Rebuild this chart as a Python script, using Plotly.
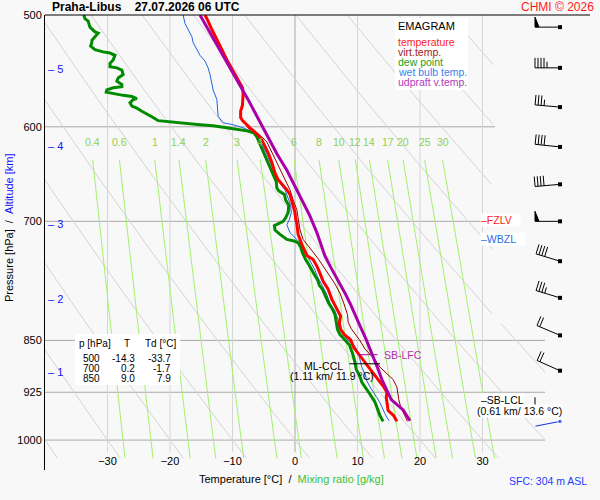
import math

import numpy as np
import plotly.graph_objects as go

# ---- sounding Praha-Libus 27.07.2026 06 UTC ----
TEMP_P = [970, 961, 953, 945, 933, 925, 917, 906, 894, 881, 869, 860, 849, 842, 835, 826, 817, 808, 795, 782,
          772, 762, 753, 745, 740, 727, 715, 703, 697, 690, 682, 670, 665, 659, 654, 647, 636, 626, 619, 613,
          608, 604, 601, 598, 594, 591, 585, 579, 568, 563, 559, 551, 547, 538, 529, 521, 512, 504, 500]
TEMP_C = [16.3, 15.8, 14.9, 14.8, 14.6, 14.7, 14.2, 13.3, 12.3, 11.2, 10.1, 9.4, 8.9, 7.9, 7.3, 7.1, 7.3, 6.7, 5.9, 5.3,
          4.5, 4.0, 3.5, 2.9, 1.9, 1.1, 0.5, 0.3, 0.1, 0.0, -0.3, -0.8, -1.3, -2.1, -2.7, -3.2, -3.7, -4.3, -4.8, -5.3,
          -5.9, -6.7, -7.2, -7.7, -8.4, -8.7, -8.7, -8.4, -8.3, -8.4, -8.8, -9.6, -10.1, -10.9, -11.7, -12.5, -13.3, -14.0, -14.4]

VIRT_P = [970, 947, 936, 922, 917, 906, 897, 888, 877, 869, 862, 849, 843, 834, 825, 815, 800, 787, 774, 762,
          753, 745, 736, 727, 721, 710, 698, 687, 676, 665, 658, 647, 636, 623, 615, 610, 606, 602, 595, 591,
          585, 579, 568, 563, 559, 551, 538, 521, 504, 500]
VIRT_C = [18.0, 16.9, 16.6, 16.4, 16.3, 15.7, 14.7, 13.6, 12.8, 12.0, 11.2, 10.3, 9.8, 9.0, 8.5, 8.4, 7.8, 7.2, 6.3, 5.3,
          4.5, 3.8, 2.9, 1.9, 1.3, 0.8, 0.5, 0.3, -0.3, -0.8, -1.3, -2.1, -2.9, -4.0, -4.5, -5.3, -6.1, -7.4, -8.2, -8.6,
          -8.6, -8.3, -8.2, -8.3, -8.7, -9.5, -10.8, -12.4, -13.9, -14.3]

DEW_P = [970, 961, 953, 940, 928, 917, 910, 902, 891, 881, 868, 856, 849, 842, 835, 826, 815, 808, 800, 791,
         782, 777, 770, 765, 759, 751, 745, 737, 730, 725, 723, 721, 715, 710, 705, 700, 696, 690, 682, 676,
         670, 666, 663, 656, 650, 644, 636, 630, 620, 614, 610, 606, 604, 602, 601, 599, 598, 596, 595, 594,
         591, 588, 585, 582, 580, 577, 574, 573, 571, 570, 568, 567, 565, 563, 562, 560, 557, 554, 551, 547,
         545, 544, 541, 538, 534, 532, 531, 529, 526, 523, 521, 518, 515, 514, 510, 505, 503, 500]
DEW_C = [14.1, 13.6, 13.3, 12.8, 12.0, 11.2, 10.7, 10.4, 9.8, 9.6, 9.2, 8.7, 8.0, 7.2, 6.8, 6.6, 6.4, 6.0, 5.4, 4.9,
         4.4, 3.9, 3.6, 3.2, 2.8, 2.2, 1.7, 1.2, 0.9, 0.5, 0.0, -1.3, -2.4, -3.2, -3.3, -1.9, -1.5, -1.1, -1.0, -1.5,
         -1.7, -2.6, -2.9, -3.0, -3.4, -3.8, -4.3, -4.8, -5.4, -5.8, -6.1, -6.6, -7.7, -9.9, -10.9, -13.1, -15.2, -18.4, -20.5, -21.9,
         -22.7, -23.7, -24.5, -25.3, -26.1, -26.4, -25.9, -25.3, -26.1, -27.5, -29.1, -30.2, -30.1, -29.1, -27.7, -27.7, -28.5, -28.3, -27.5, -27.7,
         -28.5, -29.6, -29.6, -29.1, -28.8, -29.6, -30.7, -32.0, -32.7, -32.5, -32.5, -32.0, -31.5, -32.0, -32.8, -33.1, -33.6, -33.8]

WET_P = [969, 964, 958, 951, 941, 933, 925, 917, 908, 898, 888, 877, 867, 858, 849, 832, 822, 810, 800, 787,
         776, 766, 758, 745, 736, 727, 721, 713, 704, 698, 690, 682, 676, 665, 659, 654, 643, 635, 626, 620,
         611, 606, 604, 601, 598, 596, 590, 574, 565, 559, 551, 545, 539, 534, 529, 523, 518, 512, 507, 500]
WET_C = [15.1, 14.7, 14.4, 14.1, 13.6, 13.1, 12.5, 12.0, 11.5, 11.2, 10.7, 10.4, 10.1, 9.6, 8.4, 7.0, 6.9, 6.4, 5.6, 5.0,
         4.2, 3.6, 3.2, 2.3, 1.5, 1.1, 0.3, -0.8, -1.3, -0.9, -0.6, -0.7, -1.0, -1.6, -2.3, -2.8, -3.5, -4.0, -4.6, -5.1,
         -5.6, -6.4, -7.2, -8.3, -9.9, -11.5, -12.3, -12.5, -13.1, -13.3, -13.6, -13.9, -14.4, -15.2, -15.7, -16.3, -16.5, -17.1, -17.6, -17.9]

PARCEL_P = [969, 952, 936, 921, 906, 891, 875, 863, 849, 830, 814, 800, 787, 772, 757, 741, 713, 694, 676, 661,
            644, 627, 610, 591, 574, 556, 538, 519, 500]
PARCEL_C = [18.4, 17.3, 15.4, 14.6, 13.9, 13.3, 12.6, 12.0, 11.4, 10.4, 9.6, 8.8, 8.0, 6.9, 5.9, 4.8, 3.5, 2.4, 1.1, 0.0,
            -1.3, -2.9, -4.3, -5.9, -7.5, -9.3, -11.1, -13.1, -15.2]

# winds on the right margin
WIND_P = [510, 545, 581, 620, 659, 700, 747, 793, 843, 893, 948]
WIND_DIR = [270, 270, 275, 276, 265, 270, 287, 287, 293, 294, 270]
WIND_KT = [50, 45, 35, 40, 40, 50, 40, 35, 20, 20, 10]
SFC_WIND_P = 970
SFC_WIND_DIR = 259

# table of standard levels
TABLE_P = [500, 700, 850]
TABLE_T = [-14.3, 0.2, 9.0]
TABLE_TD = [-33.7, -1.7, 7.9]

# altitude marks
ALT_KM = [1, 2, 3, 4, 5]
ALT_P = [895, 794, 703, 619, 546]

# diagnosed levels
FZLV_P = 698
WBZL_P = 720
LCL_P = 936
LFC_P = 870
LFC_SPAN = [10.1, 13.2]
CCL_P = 883
CCL_SPAN = [8.7, 13.6]

# background lines
PRESSURE_TICKS = [500, 600, 700, 850, 925, 1000]
TEMP_TICKS = [-30, -20, -10, 0, 10, 20, 30]
THETA_C = list(range(-40, 120, 10))
MIXING_RATIOS = [0.4, 0.6, 1, 1.4, 2, 3, 4, 6, 8, 10, 12, 14, 17, 20, 25, 30]

# ---- layout geometry ----
W, H = 600, 500
M_L, M_R, M_T, M_B = 45, 10, 15, 30
PLOT_W = W - M_L - M_R
PLOT_H = H - M_T - M_B
P_TOP, P_BOT = 500, 1050
T_MIN, T_MAX = -40, 40
MAIN_RIGHT = 545
PX_PER_LN = PLOT_H / math.log(P_BOT / P_TOP)
BARB_ZONE_T, BARB_ZONE_P = 32, 826
FONT = "Liberation Sans, Arial, sans-serif"
BG = "#f8f8f8"


def fx(px):
    return (px - M_L) / PLOT_W


def fy(py):
    return 1 - (py - M_T) / PLOT_H


def clean(values):
    return [None if (v is None or np.isnan(v)) else float(v) for v in values]


def dewpoint_for_mixing(w, p):
    e = w * p / (622.0 + w)
    lg = np.log(e / 6.112)
    return 243.5 * lg / (17.67 - lg)


fig = go.Figure()

# horizontal pressure grid
hx, hy = [], []
for p in PRESSURE_TICKS[1:]:
    right = BARB_ZONE_T if p < BARB_ZONE_P else T_MAX
    hx += [T_MIN, right, None]
    hy += [p, p, None]
fig.add_trace(go.Scatter(x=hx, y=hy, mode="lines", line=dict(color="#a9a9a9", width=1), hoverinfo="skip"))

# vertical temperature grid
vx, vy = [], []
for t in TEMP_TICKS:
    if t != 0:
        vx += [t, t, None]
        vy += [P_TOP, 1020, None]
fig.add_trace(go.Scatter(x=vx, y=vy, mode="lines", line=dict(color="#d6d6d6", width=1), hoverinfo="skip"))
fig.add_trace(go.Scatter(x=[0, 0], y=[P_TOP, 1020], mode="lines", line=dict(color="#a9a9a9", width=1), hoverinfo="skip"))

# dry adiabats
pp = np.geomspace(P_TOP, 1030, 90)
ax, ay = [], []
for th in THETA_C:
    tt = (th + 273.15) * (pp / 1000.0) ** 0.2857 - 273.15
    tt = np.where((tt > BARB_ZONE_T) & (pp < BARB_ZONE_P), np.nan, tt)
    ax += clean(tt) + [None]
    ay += list(pp) + [None]
fig.add_trace(go.Scatter(x=ax, y=ay, mode="lines", line=dict(color="#d4d4d4", width=1), hoverinfo="skip"))

# mixing ratio lines
pm = np.geomspace(633, 1030, 40)
mx, my = [], []
for w in MIXING_RATIOS:
    mx += clean(dewpoint_for_mixing(w, pm)) + [None]
    my += list(pm) + [None]
fig.add_trace(go.Scatter(x=mx, y=my, mode="lines", line=dict(color="#a4f06e", width=1), hoverinfo="skip"))

# profiles
fig.add_trace(go.Scatter(x=WET_C, y=WET_P, mode="lines", line=dict(color="#1f64e0", width=1)))
fig.add_trace(go.Scatter(x=VIRT_C, y=VIRT_P, mode="lines", line=dict(color="#990000", width=1)))
fig.add_trace(go.Scatter(x=DEW_C, y=DEW_P, mode="lines", line=dict(color="#008a00", width=3)))
fig.add_trace(go.Scatter(x=TEMP_C, y=TEMP_P, mode="lines", line=dict(color="#ff0000", width=3)))
fig.add_trace(go.Scatter(x=PARCEL_C, y=PARCEL_P, mode="lines", line=dict(color="#aa00aa", width=3)))

# LFC / CCL markers
fig.add_trace(go.Scatter(x=LFC_SPAN, y=[LFC_P, LFC_P], mode="lines", line=dict(color="#aa00aa", width=1)))
fig.add_trace(go.Scatter(x=CCL_SPAN, y=[CCL_P, CCL_P], mode="lines", line=dict(color="black", width=1)))

# wind barbs (x2 runs in screen pixels, y shares the pressure axis)
STATION_X = 560
STAFF_PX = 25


def barb(p, wdir, kt):
    a = math.radians(wdir)
    ux, uy = math.sin(a), math.cos(a)
    nx, ny = uy, -ux

    def pt(dx, dy):
        return (STATION_X + dx, p * math.exp(-dy / PX_PER_LN))

    lines = [pt(0, 0), pt(STAFF_PX * ux, STAFF_PX * uy), None]
    flags = []
    d = STAFF_PX
    n50, rest = divmod(kt, 50)
    n10, rest = divmod(rest, 10)
    n5 = rest // 5
    for _ in range(n50):
        flags += [pt(d * ux, d * uy), pt(d * ux + 10 * nx, d * uy + 10 * ny), pt((d - 4) * ux, (d - 4) * uy), None]
        d -= 6
    for _ in range(n10):
        lines += [pt(d * ux, d * uy), pt(d * ux + 10 * nx, d * uy + 10 * ny), None]
        d -= 3
    for _ in range(n5):
        lines += [pt(d * ux, d * uy), pt(d * ux + 6 * nx, d * uy + 6 * ny), None]
    return lines, flags


bl, bf = [], []
for p, wd, kt in zip(WIND_P, WIND_DIR, WIND_KT):
    lns, fl = barb(p, wd, kt)
    bl += lns
    bf += fl
fig.add_trace(go.Scatter(x=[q[0] if q else None for q in bl], y=[q[1] if q else None for q in bl],
                         xaxis="x2", yaxis="y", mode="lines", line=dict(color="black", width=1)))
fig.add_trace(go.Scatter(x=[q[0] if q else None for q in bf], y=[q[1] if q else None for q in bf],
                         xaxis="x2", yaxis="y", mode="lines", fill="toself", fillcolor="black",
                         line=dict(color="black", width=1)))
fig.add_trace(go.Scatter(x=[STATION_X] * len(WIND_P), y=WIND_P, xaxis="x2", yaxis="y", mode="markers",
                         marker=dict(color="black", size=4, symbol="square")))
sl, _ = barb(SFC_WIND_P, SFC_WIND_DIR, 0)
fig.add_trace(go.Scatter(x=[q[0] if q else None for q in sl], y=[q[1] if q else None for q in sl],
                         xaxis="x2", yaxis="y", mode="lines+markers",
                         line=dict(color="#1030e0", width=1), marker=dict(size=[4, 0], color="#1030e0", symbol="square")))

# ---- annotations ----
ann = []


def text(x, y, s, size=10.5, color="black", xanchor="left", xref="paper", yref="paper", **kw):
    ann.append(dict(x=x, y=y, text=s, xref=xref, yref=yref, xanchor=xanchor, yanchor="middle",
                    showarrow=False, font=dict(size=size, color=color, family=FONT), **kw))


text(fx(50), fy(7), "<b>Praha-Libus&nbsp;&nbsp;&nbsp;&nbsp;27.07.2026 06 UTC</b>", size=12)
text(fx(596), fy(7), "CHMI © 2026", size=12, color="#ff1a1a", xanchor="right")
text(fx(197), fy(479), "Temperature [°C]&nbsp;&nbsp;/&nbsp;&nbsp;<span style='color:#3cc03c'>Mixing ratio [g/kg]</span>", size=11)
text(fx(9), fy(228), "Pressure [hPa]&nbsp;&nbsp;/&nbsp;&nbsp;<span style='color:#1010ff'>Altitude [km]</span>",
     size=11, xanchor="center", textangle=-90)
text(fx(589), fy(481), "SFC: 304 m ASL", size=10.5, color="#1e3cff", xanchor="right")

# legend block
text(fx(396), fy(26), "EMAGRAM", size=11)
legend_rows = [("temperature", "#ff2020"), ("virt.temp.", "#a52020"), ("dew point", "#22a022"),
               ("wet bulb temp.", "#3a7ff0"), ("udpraft v.temp.", "#b03ac0")]
for i, (lab, col) in enumerate(legend_rows):
    text(fx(396), fy(41.7 + 10 * i), lab, size=10.5, color=col)

# level table
text(fx(95), fy(343.3), "p [hPa]", xanchor="center", size=10)
text(fx(127.3), fy(343.3), "T", xanchor="center", size=10)
text(fx(160), fy(343.3), "Td [°C]", xanchor="center", size=10)
for i, (p, t, td) in enumerate(zip(TABLE_P, TABLE_T, TABLE_TD)):
    row_y = fy(358.3 + 10 * i)
    text(fx(101.7), row_y, f"{p}", xanchor="right", size=10)
    text(fx(136.7), row_y, f"{t:.1f}", xanchor="right", size=10)
    text(fx(173.3), row_y, f"{td:.1f}", xanchor="right", size=10)

# altitude marks
for km, p in zip(ALT_KM, ALT_P):
    text(fx(46), math.log10(p), f"– {km}", size=11, color="#1010ff", yref="y")

# mixing ratio labels
for w in MIXING_RATIOS:
    lab = f"{w:g}"
    text(float(dewpoint_for_mixing(w, 633)), math.log10(615), lab, size=10.5, color="#8fd14f",
         xanchor="center", xref="x", yref="y")

# diagnosed levels
text(fx(480), math.log10(FZLV_P), "–FZLV&nbsp;&nbsp;&nbsp;", color="#ff1a1a", yref="y", bgcolor="white", borderpad=0)
text(fx(480), math.log10(WBZL_P), "–WBZL&nbsp;&nbsp;&nbsp;", color="#2a6fe0", yref="y", bgcolor="white", borderpad=0)
text(fx(480), math.log10(LCL_P), "–SB-LCL", yref="y", bgcolor="white", borderpad=0)
text(fx(519.5), math.log10(LCL_P * math.exp(11.7 / PX_PER_LN)), "(0.61 km/ 13.6 °C)", yref="y",
     xanchor="center", bgcolor="white", borderpad=0)
text(fx(381.7), math.log10(LFC_P), "SB-LFC", color="#b030b0", yref="y")
text(fx(323), math.log10(CCL_P * math.exp(2 / PX_PER_LN)), "ML-CCL", yref="y", xanchor="center")
text(fx(331.5), math.log10(CCL_P * math.exp(12.5 / PX_PER_LN)), "(1.11 km/ 11.9 °C)", yref="y", xanchor="center")

shapes = [
    dict(type="rect", xref="paper", yref="paper", x0=fx(395), x1=fx(468), y0=fy(90), y1=fy(18),
         fillcolor="white", line=dict(width=0), layer="above"),
    dict(type="rect", xref="paper", yref="paper", x0=fx(75), x1=fx(180), y0=fy(385), y1=fy(334),
         fillcolor="white", line=dict(width=0), layer="above"),
    dict(type="line", xref="paper", yref="paper", x0=0, x1=1, y0=1, y1=1, line=dict(color="black", width=1)),
]

fig.update_layout(
    width=W, height=H,
    margin=dict(l=M_L, r=M_R, t=M_T, b=M_B),
    paper_bgcolor=BG, plot_bgcolor="rgba(0,0,0,0)",
    showlegend=False,
    hovermode=False,
    font=dict(family=FONT, size=11, color="black"),
    xaxis=dict(domain=[0, fx(MAIN_RIGHT)], range=[T_MIN, T_MAX], tickvals=TEMP_TICKS, ticks="",
               ticklabelposition="inside", showgrid=False, zeroline=False, showline=False,
               tickfont=dict(size=11, color="black")),
    xaxis2=dict(domain=[0, 1], range=[M_L, W - M_R], anchor="y", visible=False, showgrid=False),
    yaxis=dict(type="log", range=[math.log10(P_BOT), math.log10(P_TOP)], tickvals=PRESSURE_TICKS,
               ticktext=[str(p) for p in PRESSURE_TICKS], ticks="", showgrid=False, zeroline=False,
               showline=True, linecolor="black", linewidth=1, tickfont=dict(size=11, color="black")),
    annotations=ann,
    shapes=shapes,
)

# the page's default body margin would shift the figure, so drop it
fig.write_html("out.html", config={"displayModeBar": False},
               post_script="document.body.style.margin='0px';")
